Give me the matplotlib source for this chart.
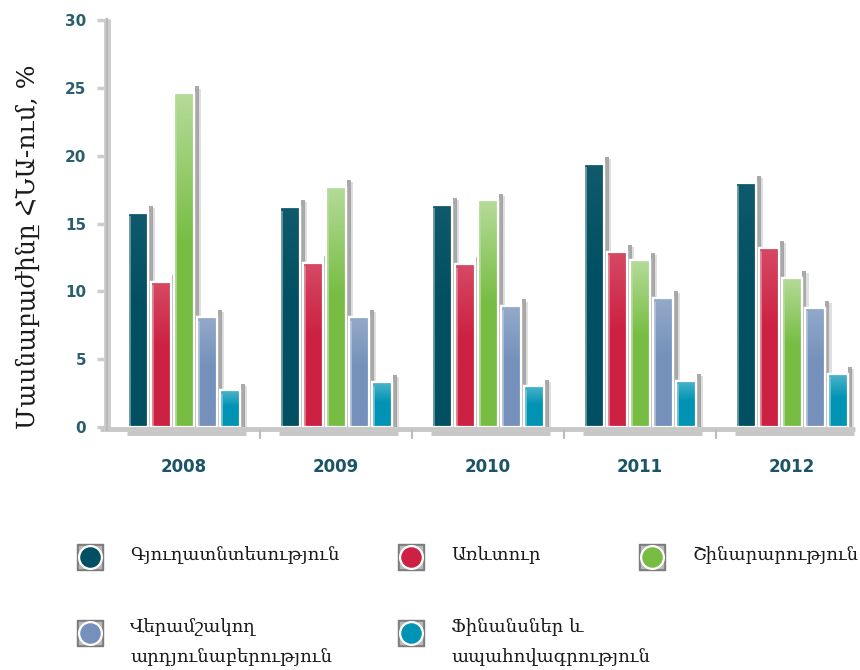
import matplotlib
matplotlib.use('Agg')
import matplotlib.pyplot as plt
import numpy as np
from matplotlib.colors import to_rgb

# data
years = ['2008', '2009', '2010', '2011', '2012']
sectors = ['Գյուղատնտեսություն', 'Առևտուր', 'Շինարարություն',
           'Վերամշակող\nարդյունաբերություն', 'Ֆինանսներ և\nապահովագրություն']
agriculture = [15.8, 16.2, 16.4, 19.4, 18.0]
trade = [10.7, 12.1, 12.0, 12.9, 13.2]
construction = [24.6, 17.7, 16.7, 12.3, 11.0]
manufacturing = [8.1, 8.1, 8.9, 9.5, 8.8]
finance = [2.7, 3.3, 3.0, 3.4, 3.9]
series = [agriculture, trade, construction, manufacturing, finance]
colors = ['#004f62', '#cc2142', '#77bd43', '#7591bb', '#0093b4']
top_light = [0.06, 0.18, 0.45, 0.22, 0.3]   # how much lighter the bar tops are

W, H = 860, 670
fig = plt.figure(figsize=(W / 100, H / 100), dpi=100)
# axes box in pixels: left 107, right 855, y=0 at 427, y=30 at 20
ax = fig.add_axes([107 / W, (H - 427) / H, (855 - 107) / W, (427 - 20) / H])
ax.set_facecolor('none')

px = 1 / 152.0          # one pixel in x data units
slot = 23 * px
bw = 20 * px
x = np.arange(len(years))
xlim = (-77 * px, 671 * px)


def lighten(c, f):
    r = np.array(to_rgb(c))
    return tuple(r + (1 - r) * f)


for k, (vals, col, fl) in enumerate(zip(series, colors, top_light)):
    xs = x + (k - 2) * slot
    # gray shadow strip at the right of each bar
    ax.bar(xs + bw / 2 + 2.5 * px, [v + 0.5 for v in vals], width=4 * px,
           color='#9a9a9a', alpha=0.85, zorder=1, linewidth=0)
    ax.bar(xs + bw / 2 + 5 * px, [v + 0.35 for v in vals], width=3 * px,
           color='#d8d8d8', alpha=0.8, zorder=0.9, linewidth=0)
    bars = ax.bar(xs, vals, width=bw, color=col, edgecolor='white',
                  linewidth=1.6, zorder=3)
    # vertical gradient, lighter at the top
    top = lighten(col, fl)
    base = to_rgb(col)
    t = np.linspace(0, 1, 64)[:, None]
    w = np.clip((t - 0.55) / 0.45, 0, 1)
    grad = np.array(base)[None, :] * (1 - w) + np.array(top)[None, :] * w
    grad = grad[::-1][:, None, :]
    for b, v in zip(bars, vals):
        im = ax.imshow(grad, extent=[b.get_x(), b.get_x() + bw, 0, v],
                       aspect='auto', zorder=3.1, interpolation='bilinear')
        im.set_clip_path(b)
        # thin lighter stripe on the left edge
        ax.plot([b.get_x() + 1.8 * px] * 2, [0, v - 0.25], color=lighten(col, 0.45),
                lw=1.2, zorder=3.15, solid_capstyle='butt')
    # white outline drawn on top of the gradient
    ax.bar(xs, vals, width=bw, facecolor='none', edgecolor='white',
           linewidth=1.6, zorder=3.2)

ax.set_xlim(*xlim)
ax.set_ylim(0, 30)

# gray shadow under each group
for xi in x:
    ax.plot([xi - 2.5 * slot, xi + 2.5 * slot + 4 * px], [-0.45, -0.45],
            color='#c6c6c6', lw=3.5, solid_capstyle='butt', clip_on=False, zorder=2)

# axis lines
for s in ax.spines.values():
    s.set_visible(False)
ax.plot([0, 0], [-0.25, 30.1], transform=ax.get_yaxis_transform(),
        color='#cdcdcd', lw=5, clip_on=False, zorder=2, solid_capstyle='butt')
ax.plot([0, 0], [-0.25, 30.1], transform=ax.get_yaxis_transform(),
        color='#b8b8b8', lw=1.5, clip_on=False, zorder=2.1)
ax.plot([-7 * px + xlim[0], xlim[1]], [-0.15, -0.15],
        color='#c8c8c8', lw=3.5, clip_on=False, zorder=2, solid_capstyle='butt')
for xm in x[:-1] + 0.5:
    ax.plot([xm, xm], [-0.3, -0.8], color='#bcbcbc', lw=1.5,
            clip_on=False, zorder=2)

ax.set_yticks(np.arange(0, 31, 5))
ax.set_yticklabels([str(v) for v in range(0, 31, 5)])
ax.tick_params(axis='y', length=7, width=2.5, color='#cdcdcd', pad=8,
               labelsize=11, labelcolor='#2a5f6e')
ax.set_xticks(x)
ax.set_xticklabels(years)
ax.tick_params(axis='x', length=0, pad=22, labelsize=12, labelcolor='#1b5466')
for lab in ax.get_xticklabels() + ax.get_yticklabels():
    lab.set_fontweight('bold')

fig.text(28 / W, 1 - 247 / H, 'Մասնաբաժինը ՀՆԱ-ում, %', rotation=90,
         ha='center', va='center', fontsize=18, family='DejaVu Serif',
         color='#1a1a1a')

# legend
lax = fig.add_axes([0, 0, 1, 1])
lax.set_xlim(0, W)
lax.set_ylim(H, 0)
lax.axis('off')
spots = [(90, 557), (411, 557), (652, 557), (90, 633), (411, 633)]
for (mx, my), col, name in zip(spots, colors, sectors):
    lax.scatter([mx], [my], marker='s', s=360, color='#7c7c7c', zorder=1)
    lax.scatter([mx], [my], marker='s', s=250, color='#b8b8b8', zorder=1.5)
    lax.scatter([mx], [my], marker='o', s=290, color='white', zorder=2)
    lax.scatter([mx], [my], marker='o', s=190, color=col, zorder=3)
    lines = name.split('\n')
    tx = mx + 40
    if len(lines) == 1:
        lax.text(tx, my - 2, name, ha='left', va='center', fontsize=13,
                 family='DejaVu Serif', color='#1a1a1a')
    else:
        lax.text(tx, my - 6, lines[0], ha='left', va='center', fontsize=13,
                 family='DejaVu Serif', color='#1a1a1a')
        lax.text(tx, my + 24, lines[1], ha='left', va='center', fontsize=13,
                 family='DejaVu Serif', color='#1a1a1a')

fig.savefig('out.png', dpi=100, facecolor='white')
